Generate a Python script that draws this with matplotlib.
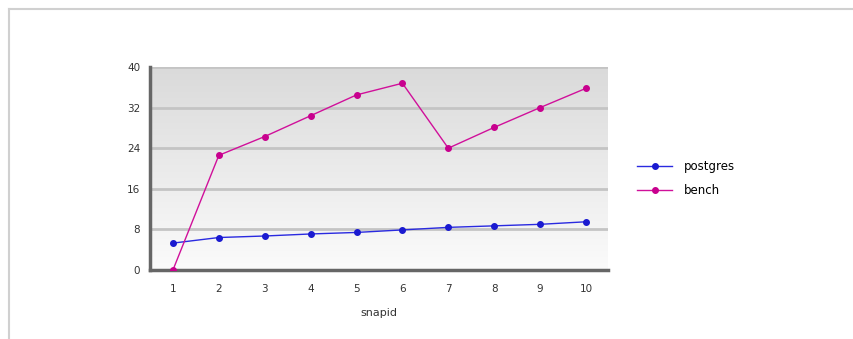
import matplotlib
matplotlib.use("Agg")
import matplotlib.pyplot as plt
import numpy as np
from matplotlib.lines import Line2D
from matplotlib.colors import LinearSegmentedColormap

snapid = [1, 2, 3, 4, 5, 6, 7, 8, 9, 10]
postgres = [5.3, 6.4, 6.7, 7.1, 7.4, 7.9, 8.4, 8.7, 9.0, 9.5]
bench = [0.0, 22.6, 26.3, 30.4, 34.5, 36.8, 24.0, 28.1, 32.0, 35.8]
yticks = [0, 8, 16, 24, 32, 40]

plt.rcParams['font.family'] = ['DejaVu Sans']
fig = plt.figure(figsize=(8.54, 3.39), dpi=100)
fig.patch.set_facecolor('white')

# outer frame
fig.add_artist(Line2D([8.5/854, 1.0], [1-8.5/339, 1-8.5/339], transform=fig.transFigure,
                      color='#d0d0d0', lw=1.5))
fig.add_artist(Line2D([8.5/854, 8.5/854], [0, 1-8.5/339], transform=fig.transFigure,
                      color='#d0d0d0', lw=1.5))

ax = fig.add_axes([150/854, 1-270/339, 458/854, 203/339])

# gradient background
grad = np.linspace(0, 1, 256).reshape(-1, 1)
cmap = LinearSegmentedColormap.from_list('g', ['#fbfbfb', '#dadada'])
ax.imshow(grad, extent=[0, 1, 0, 1], transform=ax.transAxes, aspect='auto',
          cmap=cmap, origin='lower', zorder=0)

for t in yticks[1:]:
    ax.axhline(t, color='#c4c4c4', lw=2, zorder=1)

ax.plot(snapid, postgres, color='#2a2ae0', lw=1, marker='o', ms=4,
        markeredgecolor='#1a1ad0', markerfacecolor='#1a1ad0', zorder=3, label='postgres')
ax.plot(snapid, bench, color='#d0109a', lw=1, marker='o', ms=4,
        markeredgecolor='#c8008e', markerfacecolor='#c8008e', zorder=3, label='bench')

ax.set_xlim(0.5, 10.48)
ax.set_ylim(0, 40)
ax.set_xticks(snapid)
ax.set_xticklabels([str(s) for s in snapid])
ax.set_yticks(yticks)
ax.set_yticklabels([str(t) for t in yticks])
ax.tick_params(axis='x', length=0, labelsize=7.5, pad=10, labelcolor='#333333')
ax.tick_params(axis='y', length=0, labelsize=7.5, pad=7, labelcolor='#333333')

for s in ['top', 'right']:
    ax.spines[s].set_visible(False)
for s in ['left', 'bottom']:
    ax.spines[s].set_color('#666666')
    ax.spines[s].set_linewidth(2.5)
ax.set_xlabel('snapid', fontsize=8, color='#333333', labelpad=10)

ax.legend(loc='center left', bbox_to_anchor=(1.04, 0.45), frameon=False,
          fontsize=8.5, handlelength=3, labelspacing=0.9, handletextpad=1.0)

fig.savefig('out.png', dpi=100)
